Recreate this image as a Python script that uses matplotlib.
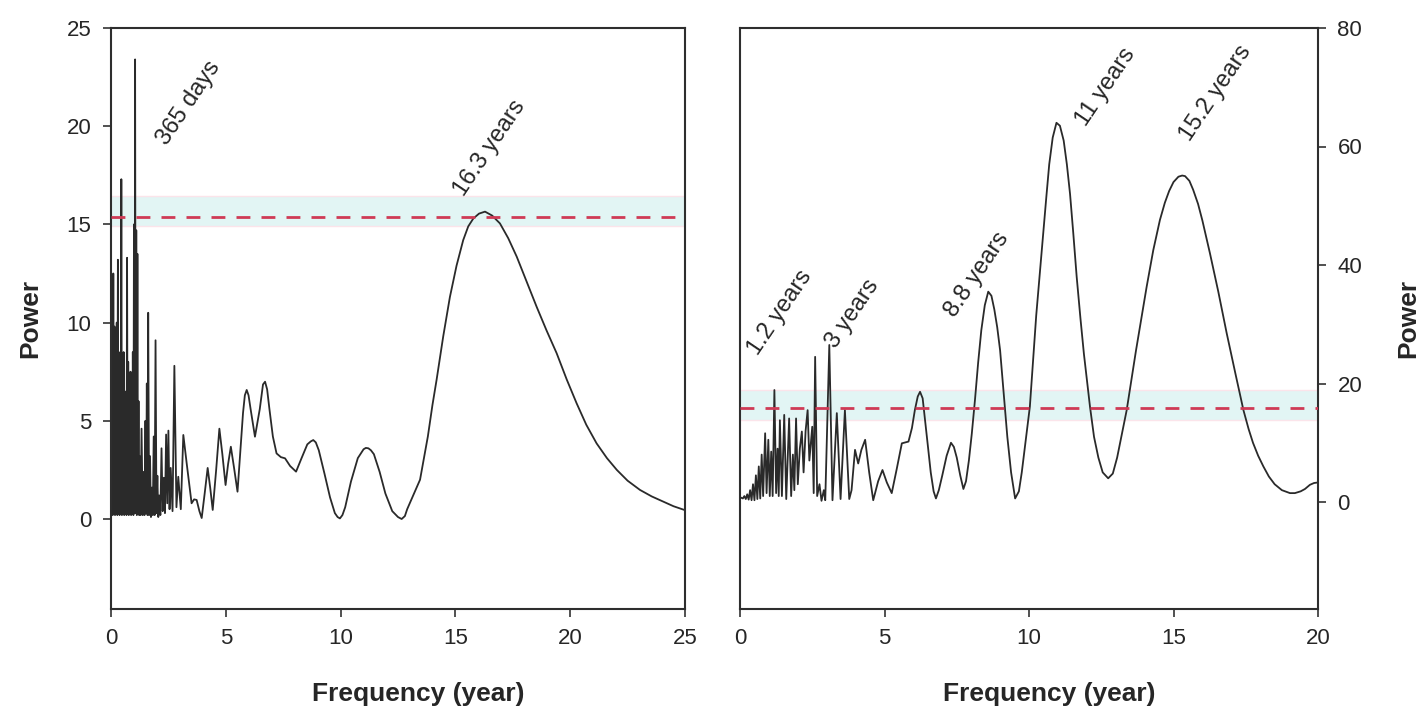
import numpy as np
import matplotlib.pyplot as plt
import matplotlib as mpl

mpl.rcParams['font.family'] = ['Liberation Sans', 'DejaVu Sans']

# ---- left panel: periodogram ----
left_freq = [0.0, 0.02, 0.05, 0.075, 0.10, 0.125, 0.15, 0.175, 0.20, 0.225, 0.25, 0.275,
             0.30, 0.325, 0.35, 0.375, 0.40, 0.425, 0.45, 0.475, 0.50, 0.525, 0.55, 0.575,
             0.60, 0.625, 0.65, 0.675, 0.70, 0.725, 0.75, 0.775, 0.80, 0.825, 0.85, 0.875,
             0.90, 0.925, 0.95, 0.975, 1.00, 1.025, 1.05, 1.075, 1.10, 1.125, 1.15, 1.175,
             1.20, 1.225, 1.25, 1.29, 1.33, 1.38, 1.42, 1.46, 1.50, 1.53, 1.56, 1.59, 1.62,
             1.66, 1.70, 1.74, 1.78, 1.82, 1.86, 1.90, 1.94, 1.98, 2.02, 2.06, 2.10, 2.15,
             2.20, 2.25, 2.30, 2.35, 2.40, 2.45, 2.50, 2.55, 2.60, 2.68, 2.76, 2.85, 2.93,
             3.04, 3.15, 3.30, 3.51, 3.62, 3.73, 3.85, 3.95, 4.08, 4.21, 4.32, 4.43, 4.58,
             4.72, 4.85, 4.99, 5.10, 5.22, 5.36, 5.51, 5.62, 5.75, 5.83, 5.91, 5.99, 6.08,
             6.27, 6.48, 6.62, 6.71, 6.80, 6.90, 7.05, 7.21, 7.40, 7.58, 7.80, 8.06, 8.30,
             8.55, 8.70, 8.81, 8.92, 9.05, 9.30, 9.54, 9.75, 9.87, 9.97, 10.08, 10.20,
             10.45, 10.75, 11.00, 11.10, 11.21, 11.32, 11.45, 11.70, 11.95, 12.25, 12.50,
             12.66, 12.80, 12.90, 13.20, 13.46, 13.80, 14.00, 14.18, 14.47, 14.76, 15.05,
             15.34, 15.56, 15.78, 16.03, 16.29, 16.60, 16.94, 17.30, 17.67, 18.10, 18.54,
             18.97, 19.41, 19.85, 20.28, 20.70, 21.15, 21.60, 22.03, 22.50, 23.04, 23.55,
             24.06, 24.50, 25.0]
left_power = [16.2, 0.3, 10.7, 0.2, 12.5, 0.3, 9.8, 0.2, 8.6, 0.3, 10.0, 0.2,
              13.2, 0.3, 8.0, 0.2, 8.5, 0.3, 17.3, 0.2, 7.0, 0.3, 8.5, 0.2,
              6.5, 0.3, 5.5, 0.2, 13.3, 0.3, 8.0, 0.2, 6.0, 0.3, 7.5, 0.2,
              5.0, 0.3, 8.5, 0.2, 15.0, 0.3, 23.4, 0.3, 14.7, 0.2, 13.5, 0.3,
              6.0, 0.2, 3.2, 0.2, 4.6, 0.2, 2.4, 0.2, 5.0, 0.3, 6.9, 0.2, 10.5,
              0.2, 3.2, 0.1, 1.6, 0.2, 4.2, 0.2, 9.1, 0.3, 2.2, 0.1, 1.2, 0.2,
              3.6, 0.4, 2.1, 0.3, 4.3, 0.8, 4.5, 0.5, 2.6, 0.4, 7.8, 0.6, 2.15,
              0.5, 4.28, 2.8, 0.8, 1.0, 0.97, 0.4, 0.05, 1.3, 2.6, 1.6, 0.46, 2.5,
              4.6, 3.3, 1.73, 2.8, 3.68, 2.6, 1.39, 3.2, 5.4, 6.3, 6.57, 6.3, 5.6,
              4.19, 5.6, 6.85, 6.99, 6.6, 5.6, 4.2, 3.34, 3.15, 3.09, 2.7, 2.41, 3.1,
              3.8, 3.95, 4.02, 3.9, 3.5, 2.3, 1.1, 0.3, 0.1, 0.03, 0.2, 0.6,
              1.9, 3.1, 3.55, 3.62, 3.6, 3.5, 3.3, 2.4, 1.3, 0.4, 0.1,
              0.0, 0.15, 0.5, 1.3, 2.0, 4.2, 5.8, 7.08, 9.3, 11.3, 12.9,
              14.2, 14.9, 15.3, 15.55, 15.65, 15.45, 15.05, 14.3, 13.36, 12.1, 10.8,
              9.6, 8.44, 7.1, 5.89, 4.8, 3.85, 3.1, 2.5, 1.95, 1.48, 1.15,
              0.88, 0.65, 0.45]
left_threshold = 15.4
left_band = (14.9, 16.45)

# ---- right panel ----
right_freq = [0.0, 0.10, 0.15, 0.20, 0.25, 0.30, 0.35, 0.40, 0.45, 0.50, 0.55, 0.60,
              0.65, 0.70, 0.75, 0.80, 0.87, 0.92, 0.98, 1.03, 1.08, 1.13, 1.19, 1.25,
              1.30, 1.34, 1.38, 1.45, 1.53, 1.60, 1.70, 1.77, 1.83, 1.88, 1.94, 2.00,
              2.07, 2.14, 2.20, 2.27, 2.34, 2.40, 2.50, 2.55, 2.60, 2.67, 2.75, 2.82,
              2.90, 2.95, 3.09, 3.20, 3.35, 3.48, 3.63, 3.78, 3.86, 3.98, 4.09, 4.20,
              4.33, 4.47, 4.61, 4.78, 4.93, 5.08, 5.25, 5.42, 5.60, 5.83, 5.95, 6.05,
              6.15, 6.23, 6.32, 6.40, 6.50, 6.60, 6.70, 6.78, 6.88, 7.00, 7.15, 7.30,
              7.40, 7.50, 7.62, 7.73, 7.82, 7.92, 8.02, 8.13, 8.24, 8.35, 8.47, 8.59,
              8.70, 8.80, 8.90, 9.00, 9.12, 9.25, 9.38, 9.52, 9.65, 9.75, 10.03, 10.25,
              10.49, 10.60, 10.70, 10.82, 10.95, 11.07, 11.20, 11.31, 11.42, 11.53,
              11.65, 11.78, 11.90, 12.11, 12.25, 12.40, 12.55, 12.74, 12.90, 13.05,
              13.38, 13.70, 14.07, 14.30, 14.53, 14.70, 14.85, 15.00, 15.17, 15.30,
              15.40, 15.55, 15.68, 15.85, 16.00, 16.26, 16.55, 16.84, 17.15, 17.42,
              17.60, 17.75, 17.93, 18.11, 18.30, 18.50, 18.75, 19.03, 19.20, 19.40,
              19.55, 19.72, 19.86, 20.0]
right_power = [0.8, 0.6, 1.0, 0.5, 1.3, 0.4, 2.0, 0.3, 3.0, 0.3, 4.5, 0.5,
               6.0, 0.6, 8.0, 1.0, 11.6, 1.5, 10.5, 1.0, 8.5, 1.0, 18.9, 1.5,
               9.0, 1.0, 13.8, 1.0, 14.7, 0.5, 14.1, 1.0, 8.0, 2.0, 14.1, 3.0,
               9.0, 11.9, 5.0, 12.0, 15.5, 7.0, 12.7, 1.5, 24.5, 1.0, 3.0, 0.2,
               2.0, 0.3, 26.5, 0.3, 15.0, 0.5, 15.5, 0.5, 2.0, 8.8, 6.5, 8.8,
               10.5, 5.0, 0.3, 3.5, 5.4, 3.3, 1.5, 5.5, 9.9, 10.2, 12.5, 15.5,
               17.8, 18.6, 17.5, 14.0, 9.5, 5.0, 1.8, 0.6, 2.0, 4.5, 7.8, 10.0,
               9.3, 7.5, 4.5, 2.2, 3.5, 7.0, 11.5, 17.2, 23.5, 29.0, 33.2, 35.5,
               34.8, 32.5, 29.5, 25.6, 18.5, 11.0, 5.0, 0.6, 1.8, 5.0, 16.1, 31.5,
               45.3, 51.5, 57.0, 61.5, 64.0, 63.5, 61.0, 57.0, 52.0, 45.5,
               38.0, 31.0, 25.0, 16.1, 11.0, 7.5, 5.0, 4.0, 4.8, 7.5,
               15.5, 25.5, 36.3, 42.5, 47.6, 50.5, 52.5, 54.0, 54.9, 55.1,
               55.0, 54.2, 52.7, 50.3, 47.5, 42.0, 35.5, 28.5, 21.5, 15.5,
               12.3, 10.0, 7.8, 6.0, 4.3, 3.0, 2.0, 1.5, 1.5, 1.8,
               2.2, 2.9, 3.2, 3.3]
right_threshold = 15.9
right_band = (13.8, 18.9)

left_labels = [('365 days', 3.4, 21.2), ('16.3 years', 16.5, 18.9)]
right_labels = [('1.2 years', 1.38, 32.0), ('3 years', 3.9, 31.7), ('8.8 years', 8.2, 38.3),
                ('11 years', 12.65, 70.0), ('15.2 years', 16.45, 69.0)]

line_col = '#2a2a2a'
txt_col = '#262626'

fig = plt.figure(figsize=(14.26, 7.18), dpi=100)
W, H = 1426, 718
bot, top = 609, 28
ax1 = fig.add_axes([111 / W, 1 - bot / H, 574 / W, (bot - top) / H])
ax2 = fig.add_axes([740 / W, 1 - bot / H, 578 / W, (bot - top) / H])

for ax, fx, py, thr, band, xmax in [(ax1, left_freq, left_power, left_threshold, left_band, 25),
                                     (ax2, right_freq, right_power, right_threshold, right_band, 20)]:
    ax.axhspan(band[0], band[1], color='#e2f5f4', lw=0, zorder=0)
    ax.axhline(band[0], color='#fbe4ea', lw=1.0, zorder=0.5)
    ax.axhline(band[1], color='#fbe4ea', lw=1.0, zorder=0.5)
    ax.plot(fx, py, color=line_col, lw=1.3, zorder=2)
    ax.axhline(thr, color='#cf3a55', lw=2.0, ls=(0, (5, 4)), zorder=3)
    ax.set_xlim(0, xmax)
    ax.set_xticks(np.arange(0, xmax + 1, 5))
    for s in ax.spines.values():
        s.set_color('#2e2e2e')
        s.set_linewidth(1.5)
    ax.tick_params(direction='out', length=6, width=1.2, colors='#333333',
                   labelsize=16, labelcolor=txt_col, pad=8)
    ax.set_xlabel('Frequency (year)', fontsize=19, fontweight='bold', color=txt_col)
    ax.xaxis.set_label_coords(0.535, -0.125)

ax1.set_ylim(-(bot - 519) / 19.64, 25)
ax1.set_yticks([0, 5, 10, 15, 20, 25])

ax2.set_ylim(-(bot - 502) / 5.925, 80)
ax2.yaxis.tick_right()
ax2.set_yticks([0, 20, 40, 60, 80])

fig.text(30 / W, 1 - 318 / H, 'Power', rotation=90, ha='center', va='center',
         fontsize=19, fontweight='bold', color=txt_col)
fig.text(1408 / W, 1 - 318 / H, 'Power', rotation=90, ha='center', va='center',
         fontsize=19, fontweight='bold', color=txt_col)

for ax, labels in [(ax1, left_labels), (ax2, right_labels)]:
    for txt, x, y in labels:
        ax.text(x, y, txt, rotation=56, ha='center', va='center', rotation_mode='anchor',
                fontsize=17, color=txt_col)

fig.savefig('out.png', dpi=100)
